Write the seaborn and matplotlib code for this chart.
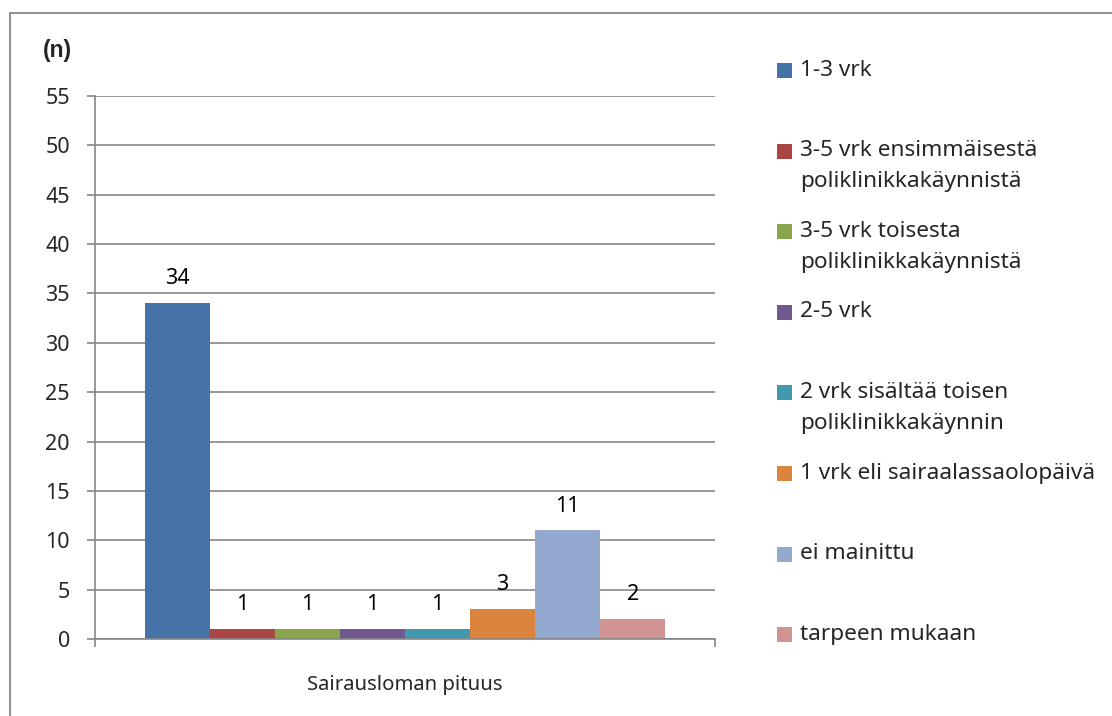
import pandas as pd
import numpy as np
import matplotlib
matplotlib.use("Agg")
import matplotlib.pyplot as plt
from matplotlib.patches import Rectangle
import seaborn as sns

# data
category = "Sairausloman pituus"
labels = ["1-3 vrk",
          "3-5 vrk ensimmäisestä\npoliklinikkakäynnistä",
          "3-5 vrk toisesta\npoliklinikkakäynnistä",
          "2-5 vrk",
          "2 vrk sisältää toisen\npoliklinikkakäynnin",
          "1 vrk eli sairaalassaolopäivä",
          "ei mainittu",
          "tarpeen mukaan"]
values = [34, 1, 1, 1, 1, 3, 11, 2]
colors = ["#4572A7", "#AA4643", "#89A54E", "#71588F",
          "#4198AF", "#DB843D", "#93A9CF", "#D19392"]
yticks = list(range(0, 60, 5))

sns.set_style("white")
plt.rcParams["font.family"] = ["Noto Sans", "DejaVu Sans"]
FS = 15.5
grey = "#868686"

W, H = 1112, 716
fig = plt.figure(figsize=(W / 100, H / 100), dpi=100)
ax = fig.add_axes([95 / W, 1 - 639 / H, 620 / W, 543 / H])

df = pd.DataFrame({"luokka": [category] * len(values), "kesto": labels, "n": values})
sns.barplot(data=df, x="luokka", y="n", hue="kesto", hue_order=labels,
            palette=colors, width=0.84, saturation=1, legend=False,
            linewidth=0, ax=ax)

for c in ax.containers:
    ax.bar_label(c, padding=10, fontsize=FS, color="black")

ax.set_xlim(-0.5, 0.5)
ax.set_ylim(0, 55)
ax.set_yticks(yticks)
ax.yaxis.grid(True, color=grey, lw=1.2)
ax.set_axisbelow(True)
ax.set_xlabel("")
ax.set_ylabel("")
ax.tick_params(axis="y", length=6, width=1.2, color=grey, labelsize=FS, pad=12, left=True)
ax.set_xticks([0], [category])
ax.set_xticks([-0.5, 0.5], minor=True)
ax.tick_params(axis="x", which="major", length=0, labelsize=14.6, pad=26)
ax.tick_params(axis="x", which="minor", length=6, width=1.2, color=grey, bottom=True)
for s in ["top", "right"]:
    ax.spines[s].set_visible(False)
for s in ["left", "bottom"]:
    ax.spines[s].set_color(grey)
    ax.spines[s].set_linewidth(1.2)

fig.text(43 / W, 1 - 51 / H, "(n)", fontsize=16.5, fontweight="bold",
         family=["Liberation Sans", "DejaVu Sans"], va="center", ha="left")

# legend, laid out like the original
LFS = 16.3
for i, (lab, col) in enumerate(zip(labels, colors)):
    yc = 70.5 + i * 80.6
    fig.add_artist(Rectangle((777 / W, 1 - (yc + 7.5) / H), 15 / W, 15 / H,
                             transform=fig.transFigure, color=col, lw=0))
    fig.text(800 / W, 1 - (yc - 11) / H, lab, fontsize=LFS, va="top", ha="left",
             linespacing=1.62)

# outer chart frame
fig.add_artist(Rectangle((10 / W, -0.1), 1.2, 1.1 - 13 / H, transform=fig.transFigure,
                         fill=False, ec=grey, lw=1.3))

fig.savefig("out.png", dpi=100)
